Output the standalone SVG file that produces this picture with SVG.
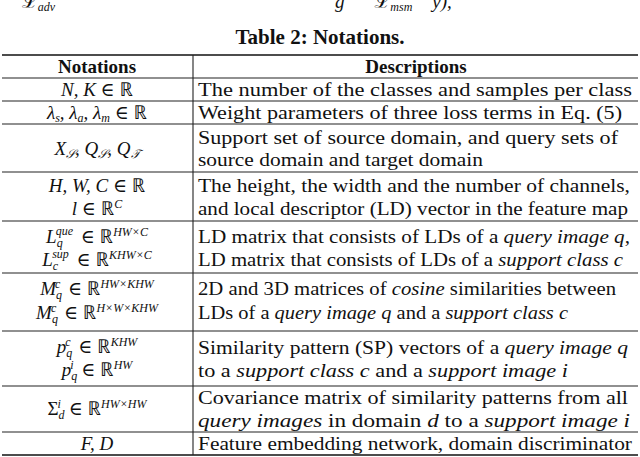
<svg xmlns="http://www.w3.org/2000/svg" width="640" height="457" viewBox="0 0 640 457">
<style>
text{font-family:'Liberation Serif','Tinos','Noto Serif','DejaVu Serif',serif;font-size:19px;fill:#111}
.c{text-anchor:middle}
.m{font-style:italic}
.n{font-style:normal}
.s{font-size:12px}
.b{font-weight:bold}
.l{stroke:#222;stroke-width:1.1}
.t{stroke:#111;stroke-width:1.6}
</style>
<rect width="640" height="457" fill="#fff"/>
<text x="22" y="8" class="m">ℒ<tspan class="s" dy="3">adv</tspan></text>
<text x="335" y="8" class="m">g<tspan dx="30">ℒ</tspan><tspan class="s" dy="3">msm</tspan><tspan dy="-3" dx="20">y),</tspan></text>
<text x="320" y="44" class="c b" style="font-size:21px">Table 2: Notations.</text>
<g id="lines">
<line class="t" x1="2" y1="55" x2="638" y2="55"/>
<line class="l" x1="2" y1="78" x2="638" y2="78"/>
<line class="l" x1="2" y1="101" x2="638" y2="101"/>
<line class="l" x1="2" y1="124" x2="638" y2="124"/>
<line class="l" x1="2" y1="172" x2="638" y2="172"/>
<line class="l" x1="2" y1="221" x2="638" y2="221"/>
<line class="l" x1="2" y1="273" x2="638" y2="273"/>
<line class="l" x1="2" y1="331" x2="638" y2="331"/>
<line class="l" x1="2" y1="386" x2="638" y2="386"/>
<line class="l" x1="2" y1="432" x2="638" y2="432"/>
<line class="t" x1="2" y1="455" x2="638" y2="455"/>
<line class="l" x1="193" y1="55" x2="193" y2="455"/>
</g>
<g id="header">
<text x="97" y="73" class="c b">Notations</text>
<text x="416" y="73" class="c b">Descriptions</text>
</g>
<g id="notations">
<text x="97" y="96" class="c m">N, K <tspan class="n">∈ ℝ</tspan></text>
<text x="97" y="119" class="c m">λ<tspan class="s" dy="3">s</tspan><tspan dy="-3">, λ</tspan><tspan class="s" dy="3">a</tspan><tspan dy="-3">, λ</tspan><tspan class="s" dy="3">m</tspan><tspan dy="-3" class="n"> ∈ ℝ</tspan></text>
<text x="97" y="155" class="c m">X<tspan class="s" dy="3">𝒮</tspan><tspan dy="-3">, Q</tspan><tspan class="s" dy="3">𝒮</tspan><tspan dy="-3">, Q</tspan><tspan class="s" dy="3">𝒯</tspan></text>
<text x="97" y="192" class="c m">H, W, C <tspan class="n">∈ ℝ</tspan></text>
<text x="97" y="215" class="c m">l <tspan class="n">∈ ℝ</tspan><tspan class="s" dy="-7">C</tspan></text>
<text x="97" y="243" class="c m">L<tspan class="s" dy="4">q</tspan><tspan class="s" dx="-7" dy="-12">que</tspan><tspan class="n" dy="8" dx="3"> ∈ ℝ</tspan><tspan class="s" dy="-7">HW×C</tspan></text>
<text x="97" y="266" class="c m">L<tspan class="s" dy="4">c</tspan><tspan class="s" dx="-6" dy="-12">sup</tspan><tspan class="n" dy="8" dx="3"> ∈ ℝ</tspan><tspan class="s" dy="-7">KHW×C</tspan></text>
<text x="97" y="295" class="c m">M<tspan class="s" dy="4">q</tspan><tspan class="s" dx="-7" dy="-11">c</tspan><tspan class="n" dy="7" dx="3"> ∈ ℝ</tspan><tspan class="s" dy="-7">HW×KHW</tspan></text>
<text x="97" y="319" class="c m">M<tspan class="s" dy="4">q</tspan><tspan class="s" dx="-7" dy="-11">c</tspan><tspan class="n" dy="7" dx="3"> ∈ ℝ</tspan><tspan class="s" dy="-7">H×W×KHW</tspan></text>
<text x="97" y="353" class="c m">p<tspan class="s" dy="4">q</tspan><tspan class="s" dx="-7" dy="-11">c</tspan><tspan class="n" dy="7" dx="3"> ∈ ℝ</tspan><tspan class="s" dy="-7">KHW</tspan></text>
<text x="97" y="376" class="c m">p<tspan class="s" dy="4">q</tspan><tspan class="s" dx="-7" dy="-11">i</tspan><tspan class="n" dy="7" dx="3"> ∈ ℝ</tspan><tspan class="s" dy="-7">HW</tspan></text>
<text x="97" y="415" class="c m"><tspan class="n">Σ</tspan><tspan class="s" dy="4">d</tspan><tspan class="s" dx="-7" dy="-11">i</tspan><tspan class="n" dy="7" dx="3"> ∈ ℝ</tspan><tspan class="s" dy="-7">HW×HW</tspan></text>
<text x="97" y="450" class="c m">F, D</text>
</g>
<g id="descriptions">
<text x="198" y="96" textLength="434" lengthAdjust="spacingAndGlyphs">The number of the classes and samples per class</text>
<text x="198" y="119" textLength="424" lengthAdjust="spacingAndGlyphs">Weight parameters of three loss terms in Eq. (5)</text>
<text x="198" y="144" textLength="420" lengthAdjust="spacingAndGlyphs">Support set of source domain, and query sets of</text>
<text x="198" y="166" textLength="285" lengthAdjust="spacingAndGlyphs">source domain and target domain</text>
<text x="198" y="192" textLength="432" lengthAdjust="spacingAndGlyphs">The height, the width and the number of channels,</text>
<text x="198" y="215" textLength="430" lengthAdjust="spacingAndGlyphs">and local descriptor (LD) vector in the feature map</text>
<text x="198" y="243" textLength="432" lengthAdjust="spacingAndGlyphs">LD matrix that consists of LDs of a <tspan class="m">query image q</tspan>,</text>
<text x="198" y="266" textLength="425" lengthAdjust="spacingAndGlyphs">LD matrix that consists of LDs of a <tspan class="m">support class c</tspan></text>
<text x="198" y="295" textLength="418" lengthAdjust="spacingAndGlyphs">2D and 3D matrices of <tspan class="m">cosine</tspan> similarities between</text>
<text x="198" y="319" textLength="370" lengthAdjust="spacingAndGlyphs">LDs of a <tspan class="m">query image q</tspan> and a <tspan class="m">support class c</tspan></text>
<text x="198" y="354" textLength="430" lengthAdjust="spacingAndGlyphs">Similarity pattern (SP) vectors of a <tspan class="m">query image q</tspan></text>
<text x="198" y="377" textLength="370" lengthAdjust="spacingAndGlyphs">to a <tspan class="m">support class c</tspan> and a <tspan class="m">support image i</tspan></text>
<text x="198" y="404" textLength="430" lengthAdjust="spacingAndGlyphs">Covariance matrix of similarity patterns from all</text>
<text x="198" y="427" textLength="432" lengthAdjust="spacingAndGlyphs"><tspan class="m">query images</tspan> in domain <tspan class="m">d</tspan> to a <tspan class="m">support image i</tspan></text>
<text x="198" y="450" textLength="434" lengthAdjust="spacingAndGlyphs">Feature embedding network, domain discriminator</text>
</g>
</svg>
